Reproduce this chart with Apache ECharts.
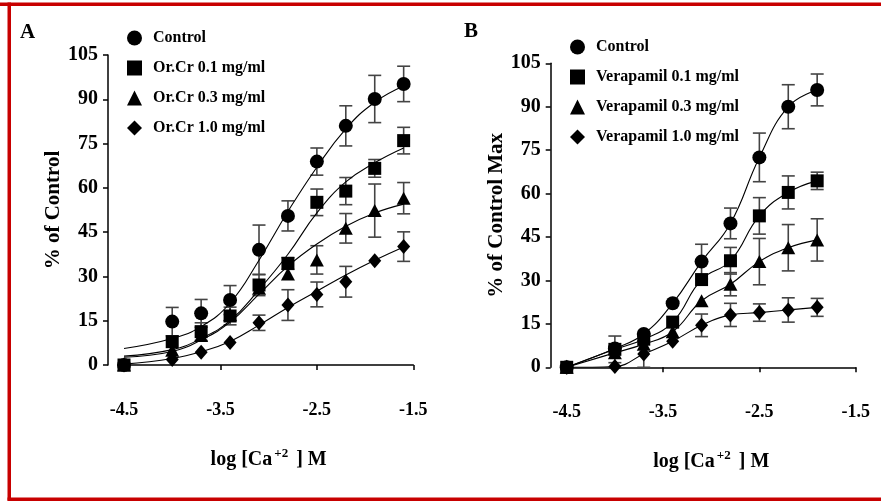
<!DOCTYPE html>
<html>
<head>
<meta charset="utf-8">
<script src="https://cdn.jsdelivr.net/npm/echarts@6/dist/echarts.min.js"></script>
<style>
html,body{margin:0;padding:0;background:#fff;}
#c{width:881px;height:501px;}
</style>
</head>
<body>
<div id="c"></div>
<script>
// ---------- data ----------
const xA = [-4.5, -4.0, -3.7, -3.4, -3.1, -2.8, -2.5, -2.2, -1.9, -1.6];
const xB = [-4.5, -4.0, -3.7, -3.4, -3.1, -2.8, -2.5, -2.2, -1.9];
const xTicks = [-4.5, -3.5, -2.5, -1.5];
const yTicks = [0, 15, 30, 45, 60, 75, 90, 105];

const namesA = ['Control', 'Or.Cr 0.1 mg/ml', 'Or.Cr 0.3 mg/ml', 'Or.Cr 1.0 mg/ml'];
const namesB = ['Control', 'Verapamil 0.1 mg/ml', 'Verapamil 0.3 mg/ml', 'Verapamil 1.0 mg/ml'];

// Panel A: means, SEM, fitted curve (read at the same x)
const aControl    = [0, 14.7, 17.5, 22.0, 39.0, 50.5, 68.9, 81.0, 90.1, 95.2];
const aControlErr = [0, 4.8, 4.7, 4.9, 8.4, 5.1, 4.6, 6.8, 8.0, 6.0];
const aControlFit = [5.6, 9.0, 13.0, 21.0, 35.5, 52.0, 67.0, 80.0, 89.0, 94.5];

const aLow    = [0, 7.9, 11.3, 16.6, 27.1, 34.4, 55.1, 58.9, 66.6, 76.0];
const aLowErr = [0, 0, 3.0, 3.0, 3.6, 2.0, 4.5, 4.6, 3.0, 4.5];
const aLowFit = [3.0, 5.2, 9.0, 15.0, 25.5, 37.5, 51.5, 62.0, 68.5, 73.5];

const aMid    = [0, 5.0, 10.0, 17.0, 26.0, 30.8, 35.6, 46.3, 52.3, 56.5];
const aMidErr = [0, 0, 0, 0, 0, 0, 4.8, 5.0, 9.0, 5.3];
const aMidFit = [2.6, 4.6, 8.5, 14.5, 24.0, 33.5, 41.0, 47.0, 51.5, 54.5];

const aHigh    = [0, 1.9, 4.3, 7.6, 14.3, 20.3, 23.9, 28.2, 35.3, 40.1];
const aHighErr = [0, 0, 0, 0, 2.6, 5.2, 4.2, 5.2, 0, 5.0];
const aHighFit = [0.3, 2.2, 4.5, 8.0, 13.5, 19.5, 25.0, 30.5, 35.5, 40.0];

// Panel B: means, SEM
const bControl    = [0, 6.5, 11.5, 22.1, 36.5, 49.7, 72.5, 90.0, 95.8];
const bControlErr = [0, 0, 0, 0, 6.0, 5.3, 8.4, 7.6, 5.5];
const bLow    = [0, 6.2, 9.7, 15.6, 30.3, 36.8, 52.3, 60.4, 64.4];
const bLowErr = [0, 4.6, 0, 0, 0, 4.6, 6.3, 5.7, 3.0];
const bMid    = [0, 5.0, 8.0, 12.3, 23.0, 28.7, 36.5, 41.3, 44.0];
const bMidErr = [0, 0, 0, 0, 0, 4.0, 8.0, 8.0, 7.3];
const bHigh    = [0, 0.3, 4.6, 9.0, 14.5, 18.1, 18.9, 19.8, 20.7];
const bHighErr = [0, 0, 4.6, 0, 3.9, 4.0, 3.0, 4.2, 3.1];

// ---------- styling ----------
const FONT = "'Liberation Serif', 'Times New Roman', serif";
const RED = '#c80000';
const symbols = ['circle', 'rect', 'triangle', 'diamond'];
const symSizes = [14, 13, [14, 13], [13, 15]];

function pairs(xs, ys) { return xs.map((x, i) => [x, ys[i]]); }
function triples(xs, ys, es) { return xs.map((x, i) => [x, ys[i], es[i]]); }

function errSeries(idx, xs, ys, es) {
  return {
    type: 'custom', xAxisIndex: idx, yAxisIndex: idx, z: 1, clip: false, silent: true,
    data: triples(xs, ys, es),
    renderItem: function (params, api) {
      const x = api.value(0), y = api.value(1), e = api.value(2);
      if (!e) return null;
      const top = api.coord([x, y + e]);
      const bot = api.coord([x, y - e]);
      const hw = 6.5;
      const st = { stroke: '#444', lineWidth: 1.6 };
      return {
        type: 'group',
        children: [
          { type: 'line', shape: { x1: top[0], y1: top[1], x2: bot[0], y2: bot[1] }, style: st },
          { type: 'line', shape: { x1: top[0] - hw, y1: top[1], x2: top[0] + hw, y2: top[1] }, style: st },
          { type: 'line', shape: { x1: bot[0] - hw, y1: bot[1], x2: bot[0] + hw, y2: bot[1] }, style: st }
        ]
      };
    }
  };
}
function lineSeries(idx, xs, ys) {
  return {
    type: 'line', xAxisIndex: idx, yAxisIndex: idx, z: 2, silent: true,
    data: pairs(xs, ys), smooth: 0.45, symbol: 'none',
    lineStyle: { color: '#000', width: 1.1 }
  };
}
function dotSeries(idx, name, k, xs, ys) {
  return {
    type: 'scatter', name: name, xAxisIndex: idx, yAxisIndex: idx, z: 3, clip: false,
    data: pairs(xs, ys), symbol: symbols[k], symbolSize: symSizes[k],
    itemStyle: { color: '#000', opacity: 1 }
  };
}

const A = [[aControl, aControlErr, aControlFit], [aLow, aLowErr, aLowFit], [aMid, aMidErr, aMidFit], [aHigh, aHighErr, aHighFit]];
const B = [[bControl, bControlErr], [bLow, bLowErr], [bMid, bMidErr], [bHigh, bHighErr]];

const series = [];
A.forEach((s) => { series.push(errSeries(0, xA, s[0], s[1])); series.push(lineSeries(0, xA, s[2])); });
B.forEach((s) => { series.push(errSeries(1, xB, s[0], s[1])); series.push(lineSeries(1, xB, s[0])); });
A.forEach((s, k) => series.push(dotSeries(0, namesA[k], k, xA, s[0])));
B.forEach((s, k) => series.push(dotSeries(1, namesB[k], k, xB, s[0])));

const labelStyleY = { fontFamily: FONT, fontWeight: 'bold', fontSize: 20, color: '#000', margin: 10 };
const labelStyleX = { fontFamily: FONT, fontWeight: 'bold', fontSize: 18, color: '#000', margin: 19 };
const axisLine = { show: true, lineStyle: { color: '#000', width: 1.5 } };
const axisTick = { show: true, length: 5, lineStyle: { color: '#000', width: 1.5 } };

function xAxis(idx) {
  return {
    type: 'value', gridIndex: idx, min: xTicks[0], max: xTicks[xTicks.length - 1], interval: 1,
    offset: 17, axisLine: axisLine, axisTick: axisTick, splitLine: { show: false },
    axisLabel: labelStyleX,
    name: '{a|log [Ca}{s|+2}{a| ] M}', nameLocation: 'middle', nameGap: 65,
    nameTextStyle: {
      rich: {
        a: { fontFamily: FONT, fontWeight: 'bold', fontSize: 20, color: '#000' },
        s: { fontFamily: FONT, fontWeight: 'bold', fontSize: 13, color: '#000', padding: [0, 3, 12, 2] }
      }
    }
  };
}
function yAxis(idx, name) {
  return {
    type: 'value', gridIndex: idx, min: yTicks[0], max: yTicks[yTicks.length - 1], interval: 15,
    offset: 16, axisLine: axisLine, axisTick: axisTick, splitLine: { show: false },
    axisLabel: labelStyleY,
    name: name, nameLocation: 'middle', nameGap: 44,
    nameTextStyle: { fontFamily: FONT, fontWeight: 'bold', fontSize: 21, color: '#000' }
  };
}
function legend(names, left, top) {
  return {
    orient: 'vertical', left: left, top: top, itemGap: 14, itemWidth: 15, itemHeight: 15,
    selectedMode: false,
    data: names.map((n, k) => ({ name: n, icon: symbols[k] })),
    itemStyle: { color: '#000', opacity: 1 },
    textStyle: { fontFamily: FONT, fontWeight: 'bold', fontSize: 16, color: '#000', padding: [0, 0, 0, 6] }
  };
}

const chart = echarts.init(document.getElementById('c'), null, { renderer: 'canvas' });
chart.setOption({
  animation: false,
  backgroundColor: '#fff',
  grid: [
    { left: 124, top: 55, width: 289.3, height: 310 },
    { left: 566.7, top: 63.3, width: 289, height: 304 }
  ],
  xAxis: [xAxis(0), xAxis(1)],
  yAxis: [yAxis(0, '% of Control'), yAxis(1, '% of Control Max')],
  legend: [legend(namesA, 122, 25), legend(namesB, 565, 34)],
  graphic: [
    { type: 'rect', shape: { x: 0, y: 2.5, width: 881, height: 3.5 }, style: { fill: RED }, silent: true },
    { type: 'rect', shape: { x: 7.5, y: 2.5, width: 3.5, height: 498 }, style: { fill: RED }, silent: true },
    { type: 'rect', shape: { x: 7.5, y: 497.5, width: 874, height: 3.5 }, style: { fill: RED }, silent: true },
    { type: 'text', left: 20, top: 22, style: { text: 'A', font: "bold 21px 'Liberation Serif', serif", fill: '#000' } },
    { type: 'text', left: 464, top: 21, style: { text: 'B', font: "bold 21px 'Liberation Serif', serif", fill: '#000' } }
  ],
  series: series
});
</script>
</body>
</html>
